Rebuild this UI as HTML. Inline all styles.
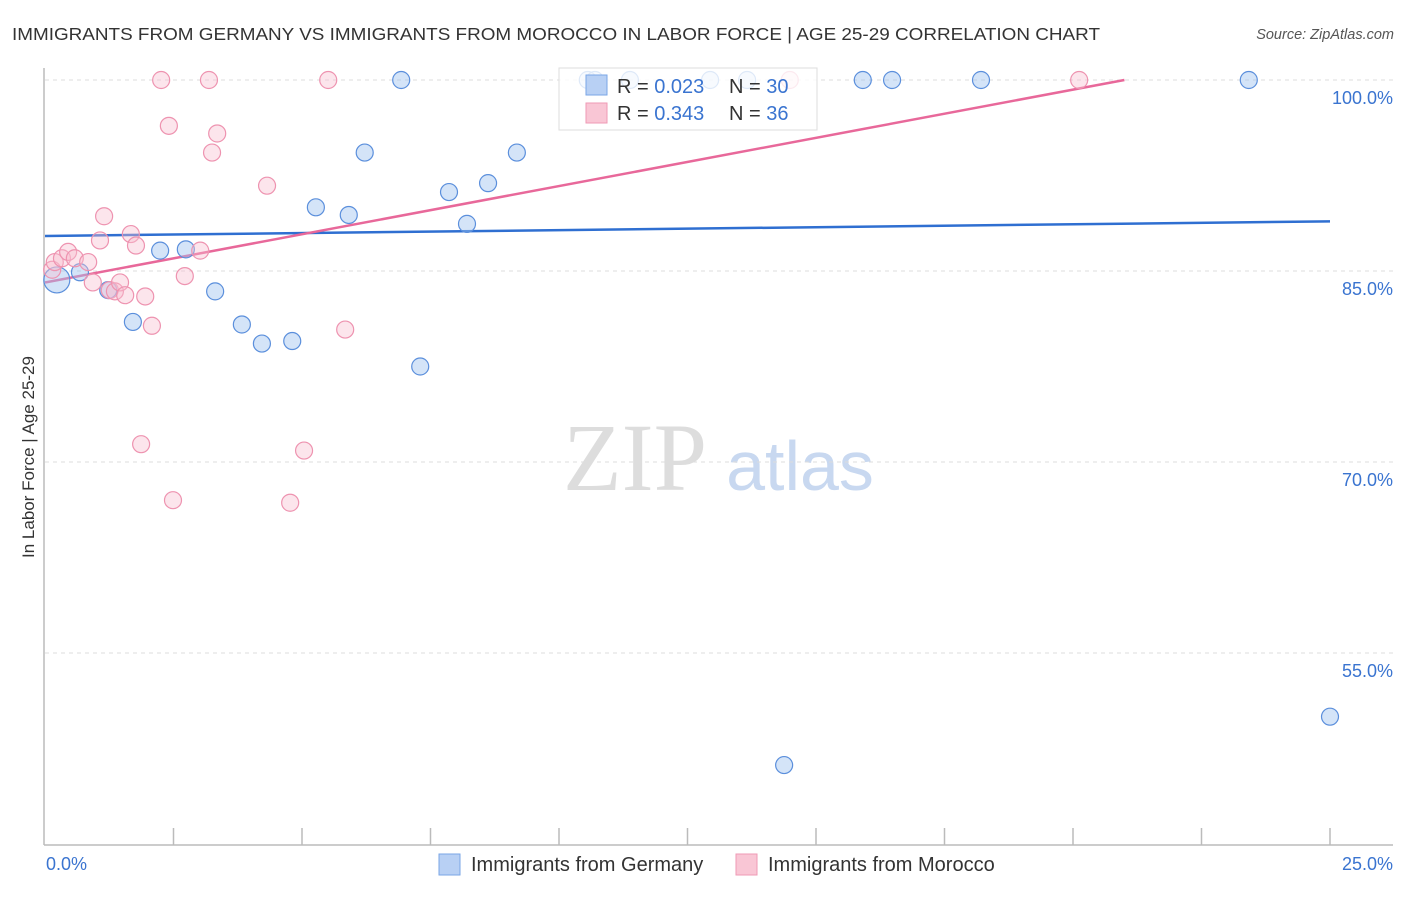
<!DOCTYPE html>
<html><head><meta charset="utf-8"><style>
body{margin:0;background:#fff;font-family:"Liberation Sans",sans-serif}
</style></head><body>
<svg id="c" width="1406" height="892" xmlns="http://www.w3.org/2000/svg" font-family="Liberation Sans, sans-serif">
<text x="12" y="40" font-size="17.5" fill="#333" textLength="1088" lengthAdjust="spacingAndGlyphs">IMMIGRANTS FROM GERMANY VS IMMIGRANTS FROM MOROCCO IN LABOR FORCE | AGE 25-29 CORRELATION CHART</text>
<text x="1394" y="39" font-size="14.5" fill="#555" text-anchor="end" font-style="italic">Source: ZipAtlas.com</text>
<text x="34" y="457" font-size="17" fill="#333" text-anchor="middle" transform="rotate(-90 34 457)">In Labor Force | Age 25-29</text>
<g><text x="635" y="490" font-size="96" fill="#ddd" text-anchor="middle" font-family="Liberation Serif, serif">ZIP</text><text x="800" y="490" font-size="70" fill="#c8d8f0" text-anchor="middle">atlas</text></g>
<g id="grid"></g><g id="axes"></g><g id="lines"></g><g id="pts"></g>
<g>
<rect x="559" y="68" width="258" height="62" fill="rgba(255,255,255,0.8)" stroke="#ddd"/>
<rect x="586" y="75" width="21" height="20" fill="#b8d0f4" stroke="#7aa6e6"/>
<rect x="586" y="103" width="21" height="20" fill="#f9c6d5" stroke="#ef9ab5"/>
<text x="617" y="93" font-size="20" fill="#333">R = <tspan fill="#3a74d0">0.023</tspan><tspan x="729">N = </tspan><tspan fill="#3a74d0">30</tspan></text>
<text x="617" y="120" font-size="20" fill="#333">R = <tspan fill="#3a74d0">0.343</tspan><tspan x="729">N = </tspan><tspan fill="#3a74d0">36</tspan></text>
</g>
<g>
<rect x="439" y="854" width="21" height="21" fill="#b8d0f4" stroke="#7aa6e6"/>
<text x="471" y="871" font-size="20" fill="#333">Immigrants from Germany</text>
<rect x="736" y="854" width="21" height="21" fill="#f9c6d5" stroke="#ef9ab5"/>
<text x="768" y="871" font-size="20" fill="#333">Immigrants from Morocco</text>
</g>
</svg>
<script>
const yTicks=[100,85,70,55];
const yTickLabels=["100.0%","85.0%","70.0%","55.0%"];
const xTickLabels=["0.0%","25.0%"];
const germanyX=[0.23,0.68,1.23,1.71,2.24,2.74,3.31,3.83,4.22,4.81,5.27,5.91,6.22,6.93,7.30,7.86,8.21,8.62,9.18,10.56,10.70,11.38,12.94,13.66,14.38,15.91,16.48,18.21,23.42,25.0];
const germanyY=[84.3,84.9,83.5,81.0,86.6,86.7,83.4,80.8,79.3,79.5,90.0,89.4,94.3,100,77.5,91.2,88.7,91.9,94.3,100,100,100,100,100,46.2,100,100,100,100,50.0];
const moroccoX=[0.14,0.19,0.33,0.45,0.58,0.84,0.93,1.07,1.15,1.26,1.36,1.46,1.56,1.67,1.77,1.95,2.08,1.87,2.26,2.41,2.49,2.72,3.02,3.19,3.25,3.35,4.32,4.77,5.04,5.51,5.84,14.49,20.12];
const moroccoY=[85.1,85.7,86.0,86.5,86.0,85.7,84.1,87.4,89.3,83.5,83.4,84.1,83.1,87.9,87.0,83.0,80.7,71.4,100,96.4,67.0,84.6,86.6,100,94.3,95.8,91.7,66.8,70.9,100,80.4,100,100];
const germanyTrend=[[0,87.75],[25,88.9]];
const moroccoTrend=[[0,84.1],[21.0,100]];
const X=v=>45+v/25*1285;
const Y=v=>80+(100-v)/15*191;
const NS="http://www.w3.org/2000/svg";
function mk(p,t,a){const e=document.createElementNS(NS,t);for(const k in a)e.setAttribute(k,a[k]);document.getElementById(p).appendChild(e);return e;}
yTicks.forEach((t,i)=>{
 const g=mk('grid','line',{x1:45,x2:1393,y1:Y(t),y2:Y(t),stroke:'#ddd','stroke-dasharray':'4,4'});
 
 
 const l=mk('grid','text',{x:1393,y:Y(t)+24,'font-size':18,fill:'#3a74d0','text-anchor':'end'});
 l.textContent=yTickLabels[i];
 
 
});
const ya=mk('axes','line',{x1:44,x2:44,y1:68,y2:845,stroke:'#bbb','stroke-width':1.5});


const xa=mk('axes','line',{x1:44,x2:1393,y1:845,y2:845,stroke:'#bbb','stroke-width':1.5});


for(let i=1;i<=10;i++){const t=mk('axes','line',{x1:X(i*2.5),x2:X(i*2.5),y1:828,y2:845,stroke:'#bbb','stroke-width':1.5});
 
 }
[[X(0)+1,'start'],[X(25)+63,'end']].forEach((p,i)=>{const t=mk('axes','text',{x:p[0],y:870,'font-size':18,fill:'#3a74d0','text-anchor':p[1]});t.textContent=xTickLabels[i];
 
 });
const bl=mk('lines','line',{x1:X(germanyTrend[0][0]),y1:Y(germanyTrend[0][1]),x2:X(germanyTrend[1][0]),y2:Y(germanyTrend[1][1]),stroke:'#2f6fd1','stroke-width':2.5});


const pl=mk('lines','line',{x1:X(moroccoTrend[0][0]),y1:Y(moroccoTrend[0][1]),x2:X(moroccoTrend[1][0]),y2:Y(moroccoTrend[1][1]),stroke:'#e8689a','stroke-width':2.5});


germanyX.forEach((x,i)=>{const c=mk('pts','circle',{cx:X(x),cy:Y(germanyY[i]),r:i==0?13:8.5,fill:'rgba(160,195,240,0.45)',stroke:'#5b8fdc','stroke-width':1.2});
 
 });
moroccoX.forEach((x,i)=>{const c=mk('pts','circle',{cx:X(x),cy:Y(moroccoY[i]),r:8.5,fill:'rgba(248,190,208,0.4)',stroke:'#ee93b0','stroke-width':1.2});
 
 });
</script>
</body></html>
